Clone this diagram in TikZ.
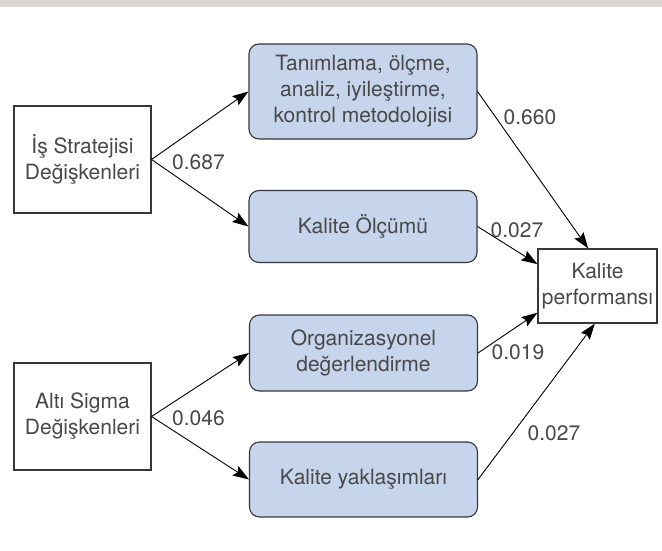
\documentclass[tikz,border=0pt]{standalone}
\usepackage{fontspec}
\setmainfont{TeX Gyre Heros}
\usetikzlibrary{arrows.meta,calc}
\definecolor{boxblue}{RGB}{198,213,236}
\definecolor{edgegray}{RGB}{55,55,55}
\definecolor{txtgray}{RGB}{72,72,72}
\definecolor{topbar}{RGB}{221,214,214}
\tikzset{
  basebox/.style={draw=edgegray, line width=1.1pt, align=center, inner sep=0pt,
    text=txtgray, font=\fontsize{21}{26}\selectfont},
  plainbox/.style={basebox, fill=white},
  bluebox/.style={basebox, fill=boxblue, rounded corners=10pt, minimum width=228pt},
  conn/.style={draw=black, line width=0.9pt, -{Stealth[length=16pt,width=11pt,inset=2.5pt]}},
  coef/.style={text=txtgray, font=\fontsize{21}{26}\selectfont, inner sep=0pt}
}
\begin{document}
\begin{tikzpicture}[x=1pt,y=1pt]
\useasboundingbox (0,0) rectangle (662,-551);
\fill[white] (0,0) rectangle (662,-551);
\fill[topbar] (0,0) rectangle (662,-7);

\node[plainbox, minimum width=137pt, minimum height=107pt] (L1) at (82.5,-159.5) {İş Stratejisi\\Değişkenleri};
\node[plainbox, minimum width=137pt, minimum height=107pt] (L2) at (82.5,-416.5) {Altı Sigma\\Değişkenleri};

\node[bluebox, minimum height=95pt] (B1) at (363,-91.5) {Tanımlama, ölçme,\\analiz, iyileştirme,\\kontrol metodolojisi};
\node[bluebox, minimum height=72pt] (B2) at (363,-226.5) {Kalite Ölçümü};
\node[bluebox, minimum height=76pt] (B3) at (363.5,-353) {Organizasyonel\\değerlendirme};
\node[bluebox, minimum height=75pt] (B4) at (363.5,-479.5) {Kalite yaklaşımları};

\node[plainbox, minimum width=119pt, minimum height=74pt] (R) at (597.5,-286) {Kalite\\performansı};

\draw[conn] (L1.east) -- (B1.west);
\draw[conn] (L1.east) -- (B2.west);
\draw[conn] (L2.east) -- (B3.west);
\draw[conn] (L2.east) -- (B4.west);

\draw[conn] (B1.east) -- (R.104);
\draw[conn] (B2.east) -- (R.160);
\draw[conn] (B3.east) -- (R.204);
\draw[conn] (B4.east) -- (R.266);

\node[coef] (c1) at (198.5,-162) {0.687};
\node[coef] (c2) at (198.5,-418) {0.046};
\node[coef] (c3) at (530,-117) {0.660};
\node[coef] (c4) at (517,-230) {0.027};
\node[coef] (c5) at (518,-352) {0.019};
\node[coef] (c6) at (554,-433) {0.027};
\end{tikzpicture}
\end{document}
